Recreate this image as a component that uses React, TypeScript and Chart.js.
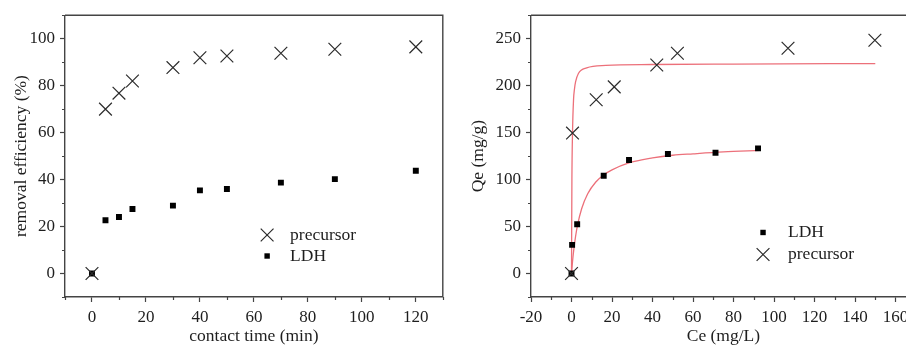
import { useEffect, useRef } from 'react';
import { Chart, registerables } from 'chart.js';

Chart.register(...registerables);

// ---- Left panel: removal efficiency vs contact time ----
const TIME_MIN = [0, 5, 10, 15, 30, 40, 50, 70, 90, 120];
const REMOVAL_PRECURSOR = [0, 70, 76.8, 82, 87.7, 91.9, 92.6, 93.8, 95.5, 96.5];
const REMOVAL_LDH = [0, 22.7, 24.1, 27.5, 28.9, 35.4, 36, 38.7, 40.2, 43.8];

// ---- Right panel: Qe vs Ce (isotherm) ----
const CE_LDH = [0, 0.3, 2.8, 15.9, 28.4, 47.6, 71.1, 92.1];
const QE_LDH = [0, 30.5, 52.4, 104, 120.8, 127.2, 128.6, 133.2];
const CE_PRECURSOR = [0, 0.5, 12.2, 21.1, 42.1, 52.3, 106.9, 149.8];
const QE_PRECURSOR = [0, 149.5, 185, 198.7, 222, 234.5, 239.8, 248.3];

// fitted curves
const FIT_LDH_CE = [0, 0.5, 1, 2, 3, 5, 8, 12, 16, 20, 28, 40, 50, 60, 75, 93];
const FIT_LDH_QE = [0, 12.5, 23, 39.4, 51.8, 69, 84.9, 97.4, 105.1, 110.4, 117.5, 123, 125.9, 127.4, 129.4, 131];
const FIT_PRE_CE = [0, 0.2, 0.5, 1, 1.5, 2, 3.4, 7.5, 17, 40, 80, 150];
const FIT_PRE_QE = [0, 100, 150, 185, 197, 204, 213, 219, 221.5, 222.5, 223, 223.5];

// ticks
const LEFT_X_TICKS = [0, 20, 40, 60, 80, 100, 120];
const LEFT_X_MINOR = [-10, 10, 30, 50, 70, 90, 110, 130];
const LEFT_Y_TICKS = [0, 20, 40, 60, 80, 100];
const LEFT_Y_MINOR = [-10, 10, 30, 50, 70, 90, 110];
const RIGHT_X_TICKS = [-20, 0, 20, 40, 60, 80, 100, 120, 140, 160];
const RIGHT_X_MINOR = [-10, 10, 30, 50, 70, 90, 110, 130, 150, 170];
const RIGHT_Y_TICKS = [0, 50, 100, 150, 200, 250];
const RIGHT_Y_MINOR = [-25, 25, 75, 125, 175, 225, 275];

const FONT = 'Liberation Serif';
const TEXT = '#1e1e1e';
const FRAME = '#444';
const MARK = '#2b2b2b';
const FIT_RED = 'rgb(236,112,122)';

const toPts = (xs: number[], ys: number[]) => xs.map((x, i) => ({ x, y: ys[i] }));

const decor = {
  id: 'decor',
  afterDraw(chart: any, _args: any, opts: any) {
    const { ctx, chartArea: a } = chart;
    const xs = chart.scales.x;
    const ys = chart.scales.y;
    ctx.save();
    ctx.strokeStyle = FRAME;
    ctx.lineWidth = 1.4;
    ctx.beginPath();
    ctx.moveTo(a.left, a.top);
    ctx.lineTo(a.right, a.top);
    ctx.lineTo(a.right, a.bottom);
    ctx.stroke();
    ctx.lineWidth = 1.2;
    ctx.beginPath();
    for (const v of opts.minorX) {
      const px = Math.round(xs.getPixelForValue(v)) + 0.5;
      ctx.moveTo(px, a.bottom);
      ctx.lineTo(px, a.bottom + 3);
    }
    for (const v of opts.minorY) {
      const py = Math.round(ys.getPixelForValue(v)) + 0.5;
      ctx.moveTo(a.left, py);
      ctx.lineTo(a.left - 3, py);
    }
    ctx.stroke();

    // legend
    const lx = a.left + opts.fx * (a.right - a.left);
    let ly = a.top + opts.fy * (a.bottom - a.top);
    ctx.font = `17.5px "${FONT}"`;
    ctx.textBaseline = 'middle';
    ctx.textAlign = 'left';
    for (const it of opts.items) {
      if (it.kind === 'cross') {
        const h = 6.4;
        ctx.strokeStyle = MARK;
        ctx.lineWidth = 1.2;
        ctx.beginPath();
        ctx.moveTo(lx - h, ly - h);
        ctx.lineTo(lx + h, ly + h);
        ctx.moveTo(lx - h, ly + h);
        ctx.lineTo(lx + h, ly - h);
        ctx.stroke();
      } else {
        ctx.fillStyle = '#000';
        ctx.fillRect(lx - 2.7, ly - 2.7, 5.4, 5.4);
      }
      ctx.fillStyle = TEXT;
      ctx.fillText(it.label, lx + opts.textGap, ly);
      ly += opts.rowGap;
    }
    ctx.restore();
  },
};

function makeScales(cfg: any) {
  return {
    x: {
      type: 'linear',
      min: cfg.xMin,
      max: cfg.xMax,
      afterBuildTicks: (s: any) => {
        s.ticks = cfg.xTicks.map((v: number) => ({ value: v }));
      },
      afterFit: (s: any) => {
        s.height = 51;
      },
      grid: { drawOnChartArea: false, tickLength: 5, tickColor: FRAME, tickWidth: 1.2 },
      border: { color: FRAME, width: 1.4 },
      ticks: { color: TEXT, font: { family: FONT, size: 17 }, padding: 5, maxRotation: 0, autoSkip: false },
      title: {
        display: true,
        text: cfg.xTitle,
        color: TEXT,
        font: { family: FONT, size: 17.5 },
        padding: { top: 0, bottom: 1 },
      },
    },
    y: {
      type: 'linear',
      min: cfg.yMin,
      max: cfg.yMax,
      afterBuildTicks: (s: any) => {
        s.ticks = cfg.yTicks.map((v: number) => ({ value: v }));
      },
      afterFit: (s: any) => {
        s.width = cfg.yWidth;
      },
      grid: { drawOnChartArea: false, tickLength: 5, tickColor: FRAME, tickWidth: 1.2 },
      border: { color: FRAME, width: 1.4 },
      ticks: { color: TEXT, font: { family: FONT, size: 17 }, padding: 5, autoSkip: false },
      title: {
        display: true,
        text: cfg.yTitle,
        color: TEXT,
        font: { family: FONT, size: 17.5 },
        padding: { top: cfg.yTitlePad, bottom: 0 },
      },
    },
  };
}

const crossDs = (label: string, data: any[]) => ({
  label,
  data,
  pointStyle: 'crossRot',
  pointRadius: 9,
  borderColor: MARK,
  backgroundColor: MARK,
  borderWidth: 1.2,
  showLine: false,
});

const squareDs = (label: string, data: any[]) => ({
  label,
  data,
  pointStyle: 'rect',
  pointRadius: 4.2,
  borderColor: '#000',
  backgroundColor: '#000',
  borderWidth: 0,
  showLine: false,
});

const fitDs = (label: string, data: any[]) => ({
  label,
  data,
  showLine: true,
  pointRadius: 0,
  borderColor: FIT_RED,
  borderWidth: 1.3,
  fill: false,
  cubicInterpolationMode: 'monotone',
});

export default function App() {
  const leftRef = useRef<HTMLCanvasElement>(null);
  const rightRef = useRef<HTMLCanvasElement>(null);

  useEffect(() => {
    const left = new Chart(leftRef.current as HTMLCanvasElement, {
      type: 'scatter',
      data: {
        datasets: [
          crossDs('precursor', toPts(TIME_MIN, REMOVAL_PRECURSOR)),
          squareDs('LDH', toPts(TIME_MIN, REMOVAL_LDH)),
        ],
      } as any,
      options: {
        responsive: false,
        animation: false,
        layout: { padding: { top: 14, right: 5, left: 0, bottom: 0 } },
        scales: makeScales({
          xMin: -10, xMax: 130, xTicks: LEFT_X_TICKS, xTitle: 'contact time (min)',
          yMin: -10, yMax: 110, yTicks: LEFT_Y_TICKS, yTitle: 'removal efficiency (%)',
          yWidth: 65, yTitlePad: 11,
        }) as any,
        plugins: {
          legend: { display: false },
          tooltip: { enabled: false },
          decor: {
            minorX: LEFT_X_MINOR,
            minorY: LEFT_Y_MINOR,
            fx: 0.535,
            fy: 0.78,
            rowGap: 21,
            textGap: 23,
            items: [
              { label: 'precursor', kind: 'cross' },
              { label: 'LDH', kind: 'square' },
            ],
          },
        } as any,
      },
      plugins: [decor],
    });

    const right = new Chart(rightRef.current as HTMLCanvasElement, {
      type: 'scatter',
      data: {
        datasets: [
          crossDs('precursor', toPts(CE_PRECURSOR, QE_PRECURSOR)),
          squareDs('LDH', toPts(CE_LDH, QE_LDH)),
          fitDs('LDH fit', toPts(FIT_LDH_CE, FIT_LDH_QE)),
          fitDs('precursor fit', toPts(FIT_PRE_CE, FIT_PRE_QE)),
        ],
      } as any,
      options: {
        responsive: false,
        animation: false,
        layout: { padding: { top: 14, right: 5, left: 0, bottom: 0 } },
        scales: makeScales({
          xMin: -20, xMax: 170, xTicks: RIGHT_X_TICKS, xTitle: 'Ce (mg/L)',
          yMin: -25, yMax: 275, yTicks: RIGHT_Y_TICKS, yTitle: 'Qe (mg/g)',
          yWidth: 78, yTitlePad: 14.5,
        }) as any,
        plugins: {
          legend: { display: false },
          tooltip: { enabled: false },
          decor: {
            minorX: RIGHT_X_MINOR,
            minorY: RIGHT_Y_MINOR,
            fx: 0.603,
            fy: 0.771,
            rowGap: 22,
            textGap: 25,
            items: [
              { label: 'LDH', kind: 'square' },
              { label: 'precursor', kind: 'cross' },
            ],
          },
        } as any,
      },
      plugins: [decor],
    });

    return () => {
      left.destroy();
      right.destroy();
    };
  }, []);

  return (
    <div
      style={{
        position: 'fixed',
        left: 0,
        top: 0,
        width: 906,
        height: 348,
        overflow: 'hidden',
        background: '#fff',
      }}
    >
      <canvas
        ref={leftRef}
        width={453}
        height={348}
        style={{ position: 'absolute', left: 0, top: 0, width: 453, height: 348 }}
      />
      <canvas
        ref={rightRef}
        width={473}
        height={348}
        style={{ position: 'absolute', left: 453, top: 0, width: 473, height: 348 }}
      />
    </div>
  );
}
